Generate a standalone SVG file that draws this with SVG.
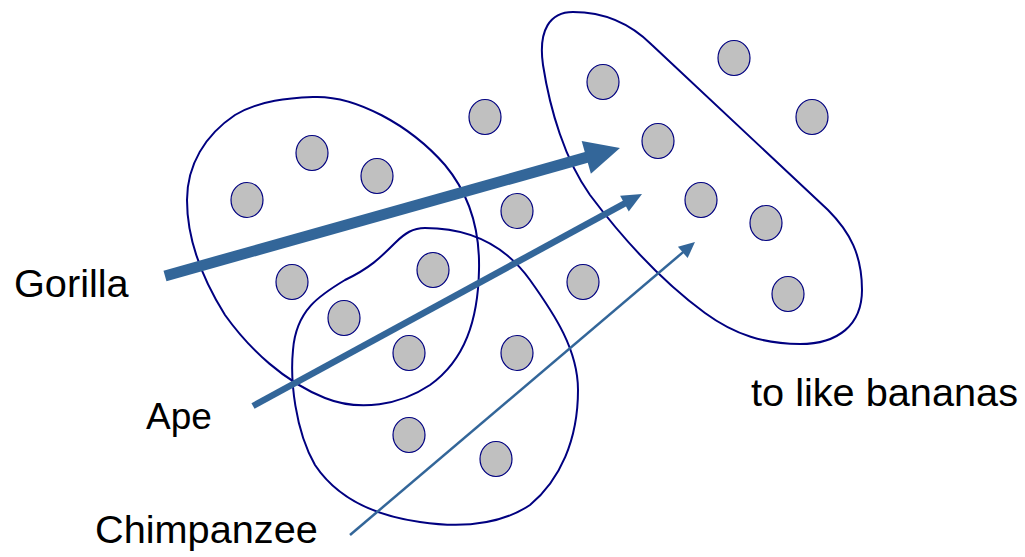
<svg xmlns="http://www.w3.org/2000/svg" width="1025" height="557" viewBox="0 0 1025 557">
<style>
.blob{fill:none;stroke:#000080;stroke-width:2}
.dot{fill:#C0C0C0;stroke:#000080;stroke-width:1.2}
.lbl{font-family:"Liberation Sans",Arial,sans-serif;font-size:39.7px;fill:#000}
.arr{stroke:#336699;fill:none;stroke-linecap:butt}
.head{fill:#336699;stroke:none}
</style>
<defs>
<marker id="hG" markerUnits="userSpaceOnUse" orient="auto" refX="0" refY="0" markerWidth="60" markerHeight="60" overflow="visible"><path class="head" d="M-2,-17 L33,0 L-2,17 Z"/></marker>
<marker id="hA" markerUnits="userSpaceOnUse" orient="auto" refX="0" refY="0" markerWidth="40" markerHeight="40" overflow="visible"><path class="head" d="M-2,-9 L18,0 L-2,9 Z"/></marker>
<marker id="hC" markerUnits="userSpaceOnUse" orient="auto" refX="0" refY="0" markerWidth="40" markerHeight="40" overflow="visible"><path class="head" d="M-2,-7.5 L14,0 L-2,7.5 Z"/></marker>
</defs>
<rect width="1025" height="557" fill="#fff"/>
<g id="blob-gorilla"><path class="blob" d="M313,97 C355,95 410,125 445,165 C470,195 480,230 479,270 C478,320 465,360 430,385 C400,405 360,412 325,398 C285,382 250,350 225,315 C200,275 187,235 187,200 C187,165 205,135 235,115 C260,100 290,98 313,97 Z"/></g>
<g id="blob-chimpanzee"><path class="blob" d="M425,228 C470,228 505,245 530,280 C555,315 578,350 578,390 C578,440 560,480 530,505 C500,525 460,528 420,522 C370,515 335,495 315,465 C295,430 290,380 293,350 C296,310 320,295 345,280 C370,268 380,258 395,243 C405,233 413,228 425,228 Z"/></g>
<g id="blob-bananas"><path class="blob" d="M573,12 C605,12 632,25 652,45 L828,210 C850,232 862,255 862,290 C862,325 838,344 800,344 C765,344 735,335 705,313 C660,280 620,235 590,195 C565,160 550,110 543,65 C538,30 550,12 573,12 Z"/></g>
<g id="dots">
<ellipse class="dot" cx="247" cy="200" rx="16" ry="17.5"/>
<ellipse class="dot" cx="312" cy="153" rx="16" ry="17.5"/>
<ellipse class="dot" cx="377" cy="176" rx="16" ry="17.5"/>
<ellipse class="dot" cx="485" cy="117" rx="16" ry="17.5"/>
<ellipse class="dot" cx="517" cy="211" rx="16" ry="17.5"/>
<ellipse class="dot" cx="292" cy="282" rx="16" ry="17.5"/>
<ellipse class="dot" cx="433" cy="270" rx="16" ry="17.5"/>
<ellipse class="dot" cx="344" cy="318" rx="16" ry="17.5"/>
<ellipse class="dot" cx="409" cy="353" rx="16" ry="17.5"/>
<ellipse class="dot" cx="517" cy="353" rx="16" ry="17.5"/>
<ellipse class="dot" cx="583" cy="282" rx="16" ry="17.5"/>
<ellipse class="dot" cx="409" cy="435" rx="16" ry="17.5"/>
<ellipse class="dot" cx="496" cy="459" rx="16" ry="17.5"/>
<ellipse class="dot" cx="603" cy="82" rx="16" ry="17.5"/>
<ellipse class="dot" cx="734" cy="58" rx="16" ry="17.5"/>
<ellipse class="dot" cx="812" cy="117" rx="16" ry="17.5"/>
<ellipse class="dot" cx="658" cy="141" rx="16" ry="17.5"/>
<ellipse class="dot" cx="701" cy="200" rx="16" ry="17.5"/>
<ellipse class="dot" cx="766" cy="223" rx="16" ry="17.5"/>
<ellipse class="dot" cx="788" cy="294" rx="16" ry="17.5"/>
</g>
<g id="connectors">
<line class="arr" x1="165" y1="276" x2="588.2" y2="156.9" stroke-width="11" marker-end="url(#hG)"/>
<line class="arr" x1="253" y1="406" x2="626.2" y2="202.6" stroke-width="6.5" marker-end="url(#hA)"/>
<line class="arr" x1="350" y1="535" x2="684.3" y2="251.1" stroke-width="2.5" marker-end="url(#hC)"/>
</g>
<g id="label-gorilla"><text class="lbl" x="14" y="297">Gorilla</text></g>
<g id="label-ape"><text class="lbl" x="146" y="429" style="font-size:37px">Ape</text></g>
<g id="label-chimpanzee"><text class="lbl" x="95" y="543">Chimpanzee</text></g>
<g id="label-bananas"><text class="lbl" x="751" y="406">to like bananas</text></g>
</svg>
